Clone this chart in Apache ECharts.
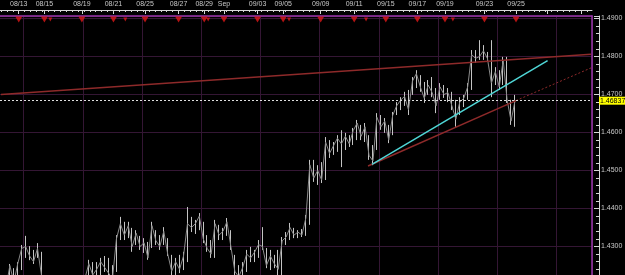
<!DOCTYPE html>
<html><head><meta charset="utf-8">
<script src="https://cdn.jsdelivr.net/npm/echarts@6/dist/echarts.min.js"></script>
<style>html,body{margin:0;padding:0;background:#000;}#c{width:625px;height:275px;}</style>
</head><body><div id="c"></div>
<script>
// ---- price bars (one bar per slot, 150 slots, last 19 slots are empty future space) ----
const barSlots = 150;
const opens = [1.4175,1.4200,1.4210,1.4240,1.4215,1.4250,1.4295,1.4298,1.4275,1.4272,
1.4285,1.4210,1.4185,1.4165,1.4145,1.4135,1.4160,1.4175,1.4160,1.4185,
1.4190,1.4195,1.4215,1.4255,1.4225,1.4240,1.4260,1.4245,1.4235,1.4235,
1.4320,1.4360,1.4330,1.4345,1.4305,1.4325,1.4300,1.4305,1.4300,1.4340,
1.4315,1.4305,1.4320,1.4275,1.4235,1.4260,1.4240,1.4270,1.4360,1.4350,
1.4360,1.4365,1.4320,1.4295,1.4280,1.4355,1.4330,1.4340,1.4340,1.4275,
1.4235,1.4220,1.4245,1.4280,1.4270,1.4285,1.4305,1.4295,1.4250,1.4270,
1.4255,1.4235,1.4315,1.4325,1.4345,1.4330,1.4338,1.4330,1.4375,1.4515,
1.4480,1.4500,1.4480,1.4575,1.4545,1.4565,1.4585,1.4570,1.4590,1.4570,
1.4605,1.4620,1.4590,1.4590,1.4540,1.4560,1.4640,1.4615,1.4620,1.4595,
1.4650,1.4670,1.4685,1.4695,1.4700,1.4735,1.4748,1.4720,1.4700,1.4725,
1.4705,1.4690,1.4720,1.4700,1.4705,1.4670,1.4650,1.4680,1.4690,1.4720,
1.4805,1.4795,1.4800,1.4810,1.4795,1.4730,1.4760,1.4725,1.4790,1.4685,
1.4630];
const closes = [1.4200,1.4190,1.4250,1.4205,1.4255,1.4295,1.4300,1.4275,1.4260,1.4295,
1.4225,1.4180,1.4160,1.4145,1.4135,1.4160,1.4180,1.4145,1.4185,1.4195,
1.4200,1.4215,1.4255,1.4225,1.4240,1.4260,1.4245,1.4230,1.4215,1.4320,
1.4360,1.4330,1.4355,1.4300,1.4335,1.4300,1.4310,1.4270,1.4355,1.4315,
1.4300,1.4340,1.4280,1.4235,1.4260,1.4240,1.4275,1.4360,1.4350,1.4360,
1.4380,1.4320,1.4295,1.4280,1.4360,1.4330,1.4340,1.4365,1.4300,1.4235,
1.4220,1.4245,1.4280,1.4270,1.4285,1.4305,1.4300,1.4250,1.4275,1.4255,
1.4240,1.4315,1.4325,1.4350,1.4330,1.4338,1.4330,1.4375,1.4515,1.4480,
1.4500,1.4475,1.4575,1.4545,1.4565,1.4585,1.4570,1.4590,1.4570,1.4605,
1.4625,1.4590,1.4615,1.4540,1.4525,1.4640,1.4615,1.4630,1.4580,1.4645,
1.4670,1.4685,1.4695,1.4660,1.4735,1.4755,1.4720,1.4690,1.4725,1.4705,
1.4670,1.4720,1.4700,1.4705,1.4670,1.4635,1.4680,1.4690,1.4720,1.4805,
1.4795,1.4800,1.4815,1.4795,1.4730,1.4760,1.4720,1.4790,1.4685,1.4630,
1.46837];
const highs = [1.4207,1.4212,1.4254,1.4243,1.4259,1.4304,1.4328,1.4301,1.4291,1.4309,
1.4286,1.4212,1.4191,1.4180,1.4165,1.4172,1.4186,1.4178,1.4191,1.4201,
1.4207,1.4217,1.4265,1.4259,1.4259,1.4270,1.4275,1.4270,1.4251,1.4330,
1.4378,1.4365,1.4365,1.4349,1.4343,1.4328,1.4322,1.4312,1.4365,1.4343,
1.4330,1.4351,1.4322,1.4278,1.4270,1.4278,1.4286,1.4404,1.4378,1.4370,
1.4388,1.4365,1.4330,1.4317,1.4370,1.4357,1.4349,1.4375,1.4343,1.4278,
1.4251,1.4259,1.4291,1.4299,1.4291,1.4317,1.4351,1.4296,1.4291,1.4278,
1.4291,1.4325,1.4338,1.4362,1.4349,1.4343,1.4346,1.4383,1.4528,1.4528,
1.4514,1.4522,1.4588,1.4580,1.4575,1.4593,1.4606,1.4599,1.4593,1.4612,
1.4633,1.4620,1.4625,1.4593,1.4567,1.4651,1.4646,1.4638,1.4620,1.4654,
1.4680,1.4693,1.4707,1.4712,1.4746,1.4764,1.4751,1.4733,1.4738,1.4746,
1.4717,1.4730,1.4725,1.4717,1.4707,1.4686,1.4693,1.4699,1.4730,1.4817,
1.4817,1.4843,1.4830,1.4812,1.4843,1.4772,1.4764,1.4799,1.4799,1.4686,
1.4699];
const lows = [1.4172,1.4180,1.4207,1.4199,1.4212,1.4238,1.4270,1.4264,1.4254,1.4270,
1.4217,1.4172,1.4154,1.4138,1.4128,1.4133,1.4146,1.4138,1.4159,1.4165,
1.4172,1.4180,1.4212,1.4217,1.4212,1.4222,1.4233,1.4225,1.4207,1.4233,
1.4317,1.4317,1.4322,1.4286,1.4304,1.4291,1.4283,1.4265,1.4296,1.4304,
1.4291,1.4304,1.4275,1.4225,1.4225,1.4230,1.4238,1.4259,1.4338,1.4333,
1.4343,1.4309,1.4286,1.4270,1.4270,1.4317,1.4317,1.4328,1.4291,1.4225,
1.4212,1.4217,1.4233,1.4259,1.4259,1.4270,1.4291,1.4243,1.4238,1.4243,
1.4225,1.4225,1.4304,1.4317,1.4322,1.4322,1.4325,1.4328,1.4357,1.4470,
1.4462,1.4467,1.4475,1.4533,1.4541,1.4549,1.4509,1.4554,1.4562,1.4567,
1.4580,1.4580,1.4575,1.4528,1.4514,1.4554,1.4607,1.4599,1.4572,1.4593,
1.4646,1.4659,1.4670,1.4646,1.4699,1.4717,1.4707,1.4678,1.4699,1.4693,
1.4651,1.4686,1.4691,1.4680,1.4659,1.4615,1.4646,1.4667,1.4686,1.4712,
1.4783,1.4791,1.4791,1.4786,1.4693,1.4725,1.4712,1.4725,1.4678,1.4620,
1.4615];

// ---- time axis (300 half-slots) ----
const timeSlots = 300;
const dateLabels = ['08/13','08/15','08/19','08/21','08/25','08/27','08/29','Sep','09/03','09/05','09/09','09/11','09/15','09/17','09/19','09/23','09/25'];
const dateLabelSlots = [9,22,41,57,73,90,103,113,130,143,162,179,195,211,225,245,261];
const futureDaySlots = [277,294];
const gridLineStart = 12, gridLineEvery = 30;
// event markers (red triangles)
const majorEventSlots = [9,22,41,57,73,90,103,113,130,143,162,179,195,211,225,245,261];
const minorEventSlots = [25,63,105,146,185,229];

// ---- trend lines: [slot, price] ----
const resistanceLine = [[0,1.4700],[299,1.4806]];
const cyanTrendLine = [[188,1.4516],[277,1.4789]];
const supportLine = [[186,1.4512],[261,1.4684]];
const supportExtension = [[261,1.4684],[299,1.4770]];

// y-axis
const yMin = 1.42, yMax = 1.490658, yStep = 0.01;

const priceCats = Array.from({length: barSlots}, (_, i) => 'b' + i);
const timeCats = Array.from({length: timeSlots}, () => '');
dateLabelSlots.forEach((s, k) => { timeCats[s] = dateLabels[k]; });
const majorTicks = new Set(dateLabelSlots.concat(futureDaySlots));
const ohlc = opens.map((o, i) => [o, closes[i], lows[i], highs[i]]);
const events = majorEventSlots.map(s => ({value: [s, 1], symbolSize: [7, 6]}))
  .concat(minorEventSlots.map(s => ({value: [s, 1], symbolSize: [4, 4]})));

const FONT = 'Liberation Sans, Arial, sans-serif';
const TXT = '#c8c8c8';
const GRIDC = '#341634';
const PURPLE = '#9a34aa';
const lastPrice = closes[closes.length - 1];

const chart = echarts.init(document.getElementById('c'), null, {renderer: 'canvas'});
chart.setOption({
  backgroundColor: '#000',
  animation: false,
  grid: {left: 0, right: 33, top: 16, bottom: -9.5, show: false, containLabel: false, outerBoundsMode: 'none'},
  xAxis: [
    {type: 'category', data: priceCats, position: 'top', boundaryGap: true,
     axisLine: {show: true, onZero: false, lineStyle: {color: PURPLE, width: 1.5}},
     axisTick: {show: false}, axisLabel: {show: false}, splitLine: {show: false}},
    {type: 'category', data: timeCats, position: 'top', offset: 6, boundaryGap: true,
     axisLine: {show: true, onZero: false, lineStyle: {color: '#d8d8d8', width: 1}},
     axisTick: {show: true, inside: true, length: 4, alignWithLabel: true,
       interval: (i) => majorTicks.has(i), lineStyle: {color: '#d8d8d8'}},
     axisLabel: {show: true, interval: 0, margin: 2, color: TXT, fontSize: 7, fontFamily: FONT},
     splitLine: {show: true, interval: (i) => i >= gridLineStart && (i - gridLineStart) % gridLineEvery === 0,
       lineStyle: {color: GRIDC, width: 1}}},
    {type: 'category', data: timeCats, position: 'top', offset: 6, boundaryGap: true,
     axisLine: {show: false, onZero: false},
     axisTick: {show: true, inside: true, length: 2, alignWithLabel: true,
       interval: (i) => i % 3 === 0, lineStyle: {color: '#d8d8d8'}},
     axisLabel: {show: false}, splitLine: {show: false}}
  ],
  yAxis: [
    {type: 'value', position: 'right', offset: 7, min: yMin, max: yMax, interval: yStep,
     axisLine: {show: true, onZero: false, lineStyle: {color: '#d8d8d8', width: 1}},
     axisTick: {show: true, inside: true, length: 5, lineStyle: {color: '#d8d8d8'}},
     minorTick: {show: true, splitNumber: 5, length: 3, lineStyle: {color: '#d8d8d8'}},
     axisLabel: {show: true, inside: false, margin: 2, color: TXT, fontSize: 7, fontFamily: FONT,
       showMaxLabel: false, formatter: (v) => v.toFixed(4)},
     splitLine: {show: true, lineStyle: {color: GRIDC, width: 1}}},
    {type: 'value', position: 'right', offset: 0, min: 0, max: 1,
     axisLine: {show: true, onZero: false, lineStyle: {color: PURPLE, width: 1.5}},
     axisTick: {show: false}, axisLabel: {show: false}, splitLine: {show: false}}
  ],
  series: [
    {type: 'line', xAxisIndex: 0, yAxisIndex: 0, data: closes, symbol: 'none',
     lineStyle: {color: '#8a8a8a', width: 1}},
    {type: 'candlestick', xAxisIndex: 0, yAxisIndex: 0, data: ohlc, barWidth: 1,
     itemStyle: {color: '#c4c4c4', color0: '#c4c4c4', borderColor: '#c4c4c4', borderColor0: '#c4c4c4', borderWidth: 1},
     markLine: {silent: true, symbol: ['none', 'none'], precision: 5,
       lineStyle: {color: '#e0e0e0', type: [2, 2], width: 1},
       label: {show: true, position: 'end', distance: 7, formatter: (p) => Number(p.value).toFixed(5),
         backgroundColor: '#ffff00', color: '#000', fontSize: 7, fontFamily: FONT, padding: [1, 1, 0, 1]},
       data: [{yAxis: lastPrice}]}},
    {type: 'line', xAxisIndex: 1, yAxisIndex: 0, data: resistanceLine, symbol: 'none',
     lineStyle: {color: '#8e2a2a', width: 1.5}},
    {type: 'line', xAxisIndex: 1, yAxisIndex: 0, data: supportLine, symbol: 'none',
     lineStyle: {color: '#8e2a2a', width: 1.5}},
    {type: 'line', xAxisIndex: 1, yAxisIndex: 0, data: supportExtension, symbol: 'none',
     lineStyle: {color: '#8e2a2a', width: 1, type: [2, 2]}},
    {type: 'line', xAxisIndex: 1, yAxisIndex: 0, data: cyanTrendLine, symbol: 'none',
     lineStyle: {color: '#4fd6d6', width: 1.5}},
    {type: 'scatter', xAxisIndex: 1, yAxisIndex: 1, data: events, symbol: 'triangle',
     symbolRotate: 180, symbolOffset: [0, 3.5], clip: false,
     itemStyle: {color: '#e01818'}}
  ]
});
</script></body></html>
